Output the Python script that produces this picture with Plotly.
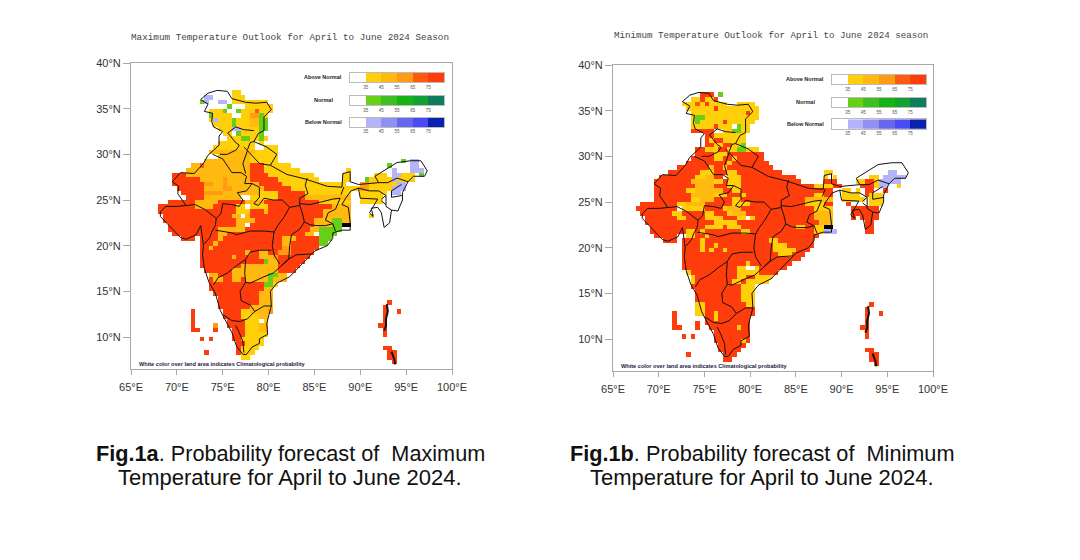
import plotly.graph_objects as go

# probability classes
CODES = ".wabcdegGhijlpqrstk"
COLORS = {".": "#FFFFFF", "w": "#FFFFFF",
          "a": "#FFCF0A", "b": "#FFB90F", "c": "#FF9C14", "d": "#FF5A10", "e": "#FF3C0C",
          "g": "#68CF18", "G": "#3FBE20", "h": "#14B414", "i": "#12A234", "j": "#0F7C60", "l": "#0F7C60",
          "p": "#B4B4FA", "q": "#9090F2", "r": "#6666EE", "s": "#4A4AF6", "t": "#0A22B0", "k": "#000000"}

LON_TICKS = [65, 70, 75, 80, 85, 90, 95, 100]
LAT_TICKS = [10, 15, 20, 25, 30, 35, 40]
LEGEND_X = [30, 40, 50, 60, 70, 80]
LEGEND_TICKS = [35, 45, 55, 65, 75]
ABOVE_BAR = ["w", "a", "b", "c", "d", "e"]
NORMAL_BAR = ["w", "g", "G", "h", "i", "j"]
BELOW_BAR = ["w", "p", "q", "r", "s", "t"]

# rows: lower-edge latitude -> runs "lon0-lon1class"
MAX_ROWS = {
 36.5: "76-77a",
 36.0: "73-74p 76-77.5a",
 35.5: "72.5-73g 73-73.5p 74.5-75.5p 76-78.5a 78.5-80a",
 35.0: "75.5-76g 77.5-80.5a",
 34.5: "73.5-75a 75-75.5g 76.5-77g 77-78.5a 78.5-79d 79-80.5a",
 34.0: "73.5-74g 74-76a 77-78a 78-79c 79-79.5g 79.5-80a",
 33.5: "73.5-74a 74-74.5p 74.5-76a 76-76.5g 76.5-78a 78-79b 79-80g",
 33.0: "74-76a 76-76.5g 76.5-78a 78-79b 79-80g",
 32.5: "74.5-76a 76-77p 77-79a 79-80g",
 32.0: "75-76a 76.5-77g 77-79a 79-79.5g",
 31.5: "75.5-77a 77-78g 78-79a 79-79.5g 79.5-80a",
 31.0: "74.5-78.5a 79-79.5a",
 30.5: "74-78.5a 79.5-81a",
 30.0: "73.5-78.5b 78.5-81a",
 29.5: "74.5-78b 78-81a",
 29.0: "73-78b 78-81a 94.5-95g 95.5-96.5p",
 28.5: "71.5-72.5b 72.5-73d 73-78b 78-79.5e 79.5-82.5a 95.5-96.5p 93-93.5g",
 28.0: "71-78b 78-79.5e 79.5-83.5a 88.5-89a 93.5-94p 94-94.5w 95.5-97p",
 27.5: "69.5-71e 71-78b 78-80e 80-85a 88-89a 91.5-93a 93.5-94.5p 94.5-96a 96.5-97g",
 27.0: "69.5-72.5e 72.5-75b 75-75.5c 75.5-78b 78-81e 81-85.5a 88-89a 90.5-91g 91-93.5a 93.5-94p 94-96a",
 26.5: "69.5-73e 73-74c 74-75b 75-75.5c 75.5-79b 79-81.5e 81.5-88.5a 90-91c 91-94a 94-95p",
 26.0: "70-73e 73-75b 75-76c 76-79.5b 79.5-82.5e 82.5-89a 89-90a 90-91c 91-93.5a 93.5-95p",
 25.5: "70.5-73e 73-75c 75-77b 77-79b 79-81a 81-84e 84-89a 90-93a 93.5-94.5p",
 25.0: "71-73e 73-77b 77-78w 78-81a 81-84e 84-89b 90-92.5a",
 24.5: "69-72e 72-74.5b 74.5-77.5e 77.5-79.5b 79.5-85.5e 85.5-89a 90-92.5a",
 24.0: "68-72e 72-74b 74-76.5e 76.5-77.5a 77.5-78w 78-80a 80-87e 87-89b",
 23.5: "68-76.5e 76.5-77a 77-78a 78-79.5e 79.5-80b 80-86e 86-89b",
 23.0: "68.5-76e 76-77b 77-77.5w 77.5-78b 78-86e 86-89b 91-91.5a",
 22.5: "68.5-76.5e 76.5-78.5b 78.5-85e 85-87b 87-88g 88-89b",
 22.0: "69-76.5e 76.5-77.5b 77.5-78w 78-85e 85-87b 87-88g 88-89k",
 21.5: "69-74.5e 74.5-77.5b 77.5-84.5e 84.5-85.5b 85.5-88g",
 21.0: "69.5-72.5e 72.5-74.5e 74.5-75.5b 75.5-83e 83-84e 84-85b 85.5-87.5g",
 20.5: "70.5-72e 72.5-74.5e 74.5-75b 75-81.5e 81.5-83b 83-85.5e 85.5-87g",
 20.0: "72.5-74e 74-74.5b 74.5-80.5e 80.5-81.5e 81.5-82.5b 82.5-85.5e 85.5-86.5g",
 19.5: "72.5-73.5e 73.5-74b 74-81.5e 81.5-82.5c 82.5-85.5e",
 19.0: "72.5-77.5e 77.5-78b 78-79e 79-80b 80-81e 81-82.5c 82.5-85e",
 18.5: "72.5-76e 76-76.5b 76.5-78e 78-79e 79-80.5b 80.5-81c 81-84.5e",
 18.0: "72.5-77.5e 77.5-79.5e 79.5-80g 80-81b 81-84e",
 17.5: "72.5-77e 77-78b 78-81b 81-83.5e",
 17.0: "73-76e 76-77b 77-81b 81-83e",
 16.5: "73.5-74.5b 74.5-76e 76-77.5b 77.5-80b 80-81g 81-82b",
 16.0: "73.5-74e 74-75b 75-76e 76-77b 77-77.5e 77.5-80b 80-80.5g 80.5-82b",
 15.5: "73.5-77e 77-79.5e 79.5-80.5g 80.5-81a",
 15.0: "73.5-78e 78-79.5e 79.5-80.5b",
 14.5: "74-79e 79-80.5b",
 14.0: "74.5-78e 78-79e 79-80.5b",
 13.5: "74.5-79e 79-80.5b 93-93.5e",
 13.0: "74.5-78e 78-80.5b 92.5-93e",
 12.5: "75-77e 77-78a 78-80b 80-80.5c 71.5-72e 92.5-93e 94-94.5e",
 12.0: "75-77e 77-79a 79-80b 71.5-72e 92.5-93e",
 11.5: "75.5-77.5e 77.5-79a 79-79.5w 79.5-80a 71.5-72e 92.5-93e",
 11.0: "75.5-77.5e 77.5-79a 79-80b 71.5-72e 74-74.5c 92-93e",
 10.5: "71.5-72.5e 74-74.5e 76-77.5e 77.5-79a 79-80b 92.5-93e",
 10.0: "76-77.5e 77.5-80a 92.5-93e",
 9.5: "72.5-73e 73.5-74e 76-77e 77-79.5a",
 9.0: "76.5-77.5e 77.5-79.5a",
 8.5: "76.5-77e 77-79a 92.5-93e 93-93.5e",
 8.0: "76.5-77e 77-78.5a 73-73.5e 93-94e",
 7.5: "77-78a 93-94e",
 7.0: "93.5-94e",
}

MIN_ROWS = {
 36.5: "74.5-76e 76.5-77g",
 36.0: "73.5-74.5a 74.5-75e 75-76a 76-76.5e",
 35.5: "72.5-74a 74-74.5d 74.5-75a 75-75.5e 75.5-77.5a 78.5-80.5a",
 35.0: "73-76a 76-76.5e 76.5-81a",
 34.5: "73.5-79.5a 79.5-80e 80-81a",
 34.0: "73.5-74a 74-75g 75-81a",
 33.5: "73.5-74a 74-74.5g 74.5-77a 77-77.5e 77.5-80.5a",
 33.0: "73.5-76a 76-76.5e 76.5-78a 78.5-79g 79-80a",
 32.5: "73.5-75e 75-76e 76-77w 77-78a 78-79g 79-80a",
 32.0: "75-76e 76-78.5a 78.5-79.5a",
 31.5: "75-75.5e 75.5-76a 76-77e 77-79.5a",
 31.0: "75-76e 76-77a 77-78e 78-79.5a 79-79.5g",
 30.5: "74-75e 75-76.5a 76.5-77.5e 77.5-78.5a 78.5-79.5g 79.5-81a",
 30.0: "74-76e 76-77.5a 77.5-78e 78-81.5e",
 29.5: "73.5-76e 76-77a 77-78e 78-78.5a 78.5-81.5e",
 29.0: "73-76.5e 76.5-77.5e 77.5-78a 78-82e",
 28.5: "72-75.5e 75.5-76b 76-77e 77-77.5a 77.5-78.5e 78.5-82.5e",
 28.0: "71-74.5e 74.5-76a 76-77.5e 77.5-78.5a 78.5-83.5e 88-89a 95-96p",
 27.5: "70-74e 74-75a 75-76b 76-77e 77.5-79a 79-85e 88-88.5a 89-89.5a 93-94a 94.5-97p",
 27.0: "69.5-73.5e 73.5-76b 76-77a 77-77.5e 77.5-79a 79-85.5e 88-89.5e 91.5-92.5a 92.5-93.5e 93.5-94a 94-96.5p",
 26.5: "69.5-73e 73-74e 74-76b 76-77.5e 77.5-79a 79-87e 87-89a 89-90e 91-92w 92-93.5e 93.5-94a 94-95p 96-96.5a",
 26.0: "69.5-73e 73-74a 74-77b 77-78e 78-79a 79-87e 87-89e 90-91a 91-91.5w 91.5-92a 92.5-93.5e 94.5-95e",
 25.5: "69.5-73.5e 73.5-76b 76-77.5a 77.5-79e 79-79.5a 79.5-87e 87-88a 88-89e 90-92a 92.5-93e 93-94.5a",
 25.0: "69.5-73.5e 73.5-74.5a 74.5-76b 76-78e 78-79a 79-86e 86-89b 90-92.5a 93-94.5a",
 24.5: "68-72e 72-73a 73-75b 75-76e 76-78e 78-80a 80-86e 86-88a 88-89e 90.5-91e 93-94.5a",
 24.0: "67.5-72e 72-72.5w 72.5-73a 73-75a 75-77e 77-77.5a 77.5-79b 79-87e 87-89a 91-93.5e 93.5-94e",
 23.5: "68-71.5e 71.5-72.5a 72.5-75e 75-76a 76-77.5e 77.5-78a 78-79.5b 79.5-87e 87-89b 91-93e 93-94e",
 23.0: "68.5-72e 72-73a 73-75e 75-77a 77-78.5e 78.5-79.5a 79.5-80w 80-80.5a 80.5-87e 87-89b 91-91.5e 92-94e",
 22.5: "68.5-72e 72-76e 76-78.5a 78.5-79.5e 79.5-85e 85-87.5e 87.5-89b 92.5-93.5e",
 22.0: "69-72e 72-75e 75-77a 77-77.5e 77.5-79a 79-85e 85-86a 86-87e 87-88a 88-89k 92.5-93.5e",
 21.5: "69-73e 73-74a 74-74.5e 74.5-75a 75-79e 79-80a 80-87e 87-88a 88-89.5p 92.5-93.5e",
 21.0: "69.5-72e 73-74a 74-75e 75-75.5a 75.5-87.5e",
 20.5: "70.5-72e 72.5-74.5e 74.5-75a 75-82e 82-83a 83-87e",
 20.0: "72.5-74.5e 74.5-75a 75-76e 76-76.5a 76.5-82.5e 82.5-84a 84-87e",
 19.5: "72.5-74.5e 74.5-75a 75-75.5e 75.5-76a 76-77e 77-77.5a 77.5-82.5e 82.5-85a 85-86.5e",
 19.0: "72.5-83e 83-84.5a 84.5-86e",
 18.5: "72.5-85.5e",
 18.0: "72.5-79.5e 79.5-80a 80-84.5e",
 17.5: "72.5-78.5e 78.5-79.5a 79.5-80.5w 80.5-81a 81-84e",
 17.0: "73-73.5a 73.5-78.5e 78.5-81a 81-83e",
 16.5: "73.5-74a 74-78.5e 78.5-79.5a 79.5-80.5e 80.5-82.5a",
 16.0: "73.5-74a 74-78e 78-79a 79-79.5e 79.5-82a",
 15.5: "73.5-79e 79-80.5a",
 15.0: "74-79e 79-80.5a",
 14.5: "74-79e 79-80.5a",
 14.0: "74-79e 79-80.5a",
 13.5: "74-75a 75-79.5e 79.5-80.5a 93-93.5e",
 13.0: "74-75a 75-80.5e 92.5-93e",
 12.5: "74-75a 75-76e 76-76.5a 76.5-80.5e 71.5-72e 92.5-93e 94-94.5e",
 12.0: "75-76e 76-76.5a 76.5-80e 71.5-72e 92.5-93e",
 11.5: "75-80e 74-74.5e 71.5-72e 92.5-93e",
 11.0: "75.5-78.5e 78.5-79a 79-80e 71.5-72.5e 74-74.5e 92-93e",
 10.5: "76-80e 92.5-93e",
 10.0: "76-80e 72.5-73e 73.5-74e 92.5-93e",
 9.5: "76-79e 79-79.5a 79.5-80e",
 9.0: "76.5-79.5e",
 8.5: "76.5-79e 92.5-93e 93-93.5e",
 8.0: "77-78.5e 73-73.5e 93-94e",
 7.5: "77-78e 93-94e",
 7.0: "93.5-94e",
}

# India and state boundaries, lon/lat
COUNTRY = [(68.2, 23.7), (68.8, 24.3), (70.0, 24.3), (71.0, 24.4), (70.1, 25.7), (70.2, 26.5), (69.5, 27.0), (70.4, 28.0), (71.9, 27.9), (72.9, 29.0), (73.4, 29.9), (73.9, 30.4), (74.6, 31.0), (74.6, 32.0), (75.0, 32.5), (74.0, 33.0), (73.8, 33.6), (73.9, 34.5), (73.0, 34.7), (73.4, 35.5), (72.6, 36.0), (73.4, 36.7), (74.4, 37.0), (75.5, 36.9), (76.0, 36.1), (77.5, 35.7), (78.6, 35.6), (79.8, 35.7), (80.3, 34.9), (79.5, 34.1), (79.5, 32.6), (78.9, 32.3), (78.4, 31.4), (79.8, 30.8), (80.9, 30.0), (80.2, 28.8), (82.0, 27.8), (84.0, 27.3), (86.4, 26.5), (88.0, 26.4), (88.1, 27.9), (88.9, 28.1), (88.9, 27.0), (89.8, 26.7), (92.0, 26.9), (91.6, 27.6), (93.0, 28.5), (94.0, 29.1), (95.5, 29.3), (96.6, 29.3), (97.3, 28.2), (97.0, 27.6), (95.8, 27.6), (95.2, 27.0), (94.6, 25.8), (94.6, 25.0), (94.1, 23.8), (93.4, 23.9), (93.2, 22.5), (92.6, 22.0), (92.3, 23.6), (91.9, 24.2), (91.2, 24.1), (91.4, 23.2), (91.0, 23.6), (91.9, 25.1), (90.0, 25.2), (89.8, 26.3), (89.0, 26.0), (88.4, 25.2), (88.0, 24.5), (88.7, 24.2), (88.9, 22.5), (88.9, 21.7), (88.0, 21.7), (87.0, 21.4), (87.0, 20.8), (86.4, 20.0), (85.0, 19.4), (83.5, 17.8), (82.3, 16.6), (80.9, 15.9), (80.2, 15.0), (80.3, 13.4), (79.8, 11.5), (79.9, 10.3), (79.0, 9.8), (79.0, 9.3), (78.2, 8.9), (77.6, 8.1), (77.2, 8.1), (76.5, 9.0), (76.0, 10.5), (75.2, 12.0), (74.7, 13.0), (74.2, 14.8), (73.5, 16.0), (73.0, 17.5), (72.8, 19.0), (72.9, 20.0), (72.8, 21.0), (72.6, 22.2), (72.1, 21.2), (71.0, 20.7), (70.4, 20.9), (69.0, 22.3), (68.2, 23.2), (68.2, 23.7)]
STATE_LINES = [
 [(71.0, 24.4), (72.0, 24.5), (73.0, 24.0), (73.8, 23.4), (74.3, 23.0)],
 [(74.3, 23.0), (74.2, 22.2), (73.8, 21.5), (73.6, 20.9), (73.0, 20.2)],
 [(74.3, 23.0), (74.8, 23.5), (75.0, 24.6), (76.0, 24.5), (76.8, 24.3), (77.2, 25.0), (76.6, 25.8), (77.6, 26.0), (78.2, 26.8), (77.4, 26.8), (77.6, 27.6), (77.0, 28.0), (76.0, 28.0), (75.5, 28.8), (75.0, 29.5), (73.9, 30.0)],
 [(74.7, 30.0), (75.5, 30.0), (76.5, 30.5), (76.8, 31.0), (76.4, 31.3), (75.6, 32.3)],
 [(75.5, 32.3), (76.4, 33.0), (77.3, 32.7), (78.4, 32.6)],
 [(77.7, 30.5), (78.0, 31.3), (78.4, 31.4)],
 [(77.7, 30.4), (78.3, 29.7), (79.0, 29.0), (80.2, 28.8)],
 [(77.5, 27.9), (77.2, 29.0), (77.7, 30.4), (77.3, 30.8)],
 [(84.2, 27.4), (84.0, 26.6), (84.3, 25.7), (83.4, 25.2), (83.4, 24.4)],
 [(78.2, 26.8), (79.0, 26.4), (79.0, 25.3), (78.4, 24.6), (78.9, 24.4), (79.5, 25.2), (80.5, 25.0), (81.5, 25.0), (82.3, 24.2), (83.4, 24.4)],
 [(83.4, 24.6), (84.5, 24.5), (85.8, 24.8), (87.0, 25.1), (87.8, 25.2), (87.3, 24.0), (86.5, 23.6), (86.2, 22.8), (87.0, 22.4)],
 [(83.9, 22.6), (84.5, 22.3), (85.2, 22.2), (86.2, 22.2), (87.0, 22.4), (87.3, 21.6)],
 [(83.4, 24.4), (83.7, 23.5), (83.9, 22.6), (83.4, 21.8), (82.5, 21.2), (82.3, 20.0), (82.2, 18.5), (81.4, 17.8)],
 [(82.3, 24.2), (81.6, 23.0), (81.0, 22.2), (80.6, 21.5), (80.4, 20.0), (80.6, 19.0), (81.2, 18.0)],
 [(74.2, 21.7), (76.0, 21.4), (76.5, 21.2), (78.0, 21.6), (79.5, 21.6), (80.6, 21.5)],
 [(80.3, 19.5), (79.0, 19.5), (78.0, 19.3), (77.5, 18.5), (76.5, 17.8), (75.5, 17.0), (74.5, 16.5), (74.0, 15.7)],
 [(81.4, 17.8), (80.5, 17.0), (79.5, 16.6), (78.0, 15.9), (77.5, 16.0), (77.4, 17.0), (77.5, 18.5)],
 [(77.5, 16.0), (76.9, 15.0), (77.0, 14.0), (78.0, 13.5), (78.5, 12.8), (77.7, 12.0), (76.9, 11.7), (76.0, 11.8), (75.1, 12.4)],
 [(78.5, 12.8), (79.5, 13.4), (80.3, 13.4)],
 [(76.4, 11.3), (76.8, 10.5), (77.2, 9.5), (77.3, 8.3)],
 [(81.4, 17.8), (82.0, 18.4), (83.0, 19.0), (84.7, 19.1)],
 [(89.8, 26.3), (91.0, 26.0), (92.0, 26.0), (92.8, 25.5), (92.3, 25.1)],
 [(92.0, 26.9), (93.0, 26.9), (94.0, 27.4), (95.2, 27.0)],
 [(93.4, 26.0), (94.5, 26.7)],
 [(93.4, 26.0), (93.4, 25.3), (94.6, 25.5)],
 [(92.8, 25.5), (92.8, 24.3), (93.4, 23.9)],
 [(92.3, 24.9), (92.8, 24.5)],
 [(88.2, 26.4), (87.9, 25.6)],
]
ANDAMAN = [(92.9, 13.6), (93.0, 12.8), (92.8, 12.0), (92.8, 11.2), (92.6, 10.7)]
NICOBAR = [(93.4, 8.4), (93.7, 7.6), (93.8, 7.0)]


def grid(rows):
    lons = [67 + 0.5 * i + 0.25 for i in range(64)]
    lats = [6.5 + 0.5 * j + 0.25 for j in range(64)]
    z = [[None] * len(lons) for _ in lats]
    for lat, runs in rows.items():
        j = int(round((lat - 6.5) / 0.5))
        for run in runs.split():
            code = run[-1]
            a, b = run[:-1].split("-")
            i0 = int(round((float(a) - 67) / 0.5))
            i1 = int(round((float(b) - 67) / 0.5))
            for i in range(i0, i1):
                z[j][i] = CODES.index(code)
    return lons, lats, z


n = len(CODES)
colorscale = []
for k, c in enumerate(CODES):
    colorscale += [[k / n, COLORS[c]], [(k + 1) / n, COLORS[c]]]


def px_x(x):
    return x / 1080


def px_y(y):
    return 1 - y / 560


TICK_FONT = dict(family="Liberation Sans", size=11, color="#333333")
FRAME = "#A8A8A8"
fig = go.Figure()
layout = dict(width=1080, height=560, autosize=False, margin=dict(l=0, r=0, t=0, b=0, pad=0),
              paper_bgcolor="white", plot_bgcolor="white", showlegend=False)
annotations = []


def add_panel(idx, rows, box, bars, bar_x, label_x, white_x, title, title_size, title_x, title_y, white_y):
    xn, yn = f"x{idx}", f"y{idx}"
    lons, lats, z = grid(rows)
    fig.add_trace(go.Heatmap(x=lons, y=lats, z=z, colorscale=colorscale, zmin=0, zmax=n,
                             showscale=False, xaxis=xn, yaxis=yn, hoverongaps=False))
    xs, ys = [], []
    for seg in [COUNTRY] + STATE_LINES:
        xs += [p[0] for p in seg] + [None]
        ys += [p[1] for p in seg] + [None]
    fig.add_trace(go.Scatter(x=xs, y=ys, mode="lines", line=dict(color="#111111", width=1),
                             xaxis=xn, yaxis=yn, hoverinfo="skip"))
    for isl in (ANDAMAN, NICOBAR):
        fig.add_trace(go.Scatter(x=[p[0] for p in isl], y=[p[1] for p in isl], mode="lines",
                                 line=dict(color="#111111", width=2), xaxis=xn, yaxis=yn, hoverinfo="skip"))
    x0, x1, y0, y1 = box
    layout[f"xaxis{idx}"] = dict(domain=[px_x(x0), px_x(x1)], range=[65, 100], anchor=yn, automargin=False,
                                 tickmode="array", tickvals=LON_TICKS, ticktext=[f"{v}°E" for v in LON_TICKS],
                                 ticks="outside", ticklen=5, tickcolor=FRAME, showgrid=False, zeroline=False,
                                 ticklabelstandoff=3,
                                 showline=True, linecolor=FRAME, mirror=True, tickfont=TICK_FONT)
    layout[f"yaxis{idx}"] = dict(domain=[px_y(y1), px_y(y0)], range=[6.5, 40], anchor=xn, automargin=False,
                                 tickmode="array", tickvals=LAT_TICKS, ticktext=[f"{v}°N" for v in LAT_TICKS],
                                 ticks="outside", ticklen=7, tickcolor=FRAME, showgrid=False, zeroline=False,
                                 showline=True, linecolor=FRAME, mirror=True, tickfont=TICK_FONT)
    for k, (name, codes, top) in enumerate(bars):
        ax = idx * 10 + k
        fig.add_trace(go.Heatmap(x=LEGEND_X, y=[0], z=[[CODES.index(c) for c in codes]], colorscale=colorscale,
                                 zmin=0, zmax=n, showscale=False, xaxis=f"x{ax}", yaxis=f"y{ax}",
                                 hoverinfo="skip", xgap=0))
        layout[f"xaxis{ax}"] = dict(domain=[px_x(bar_x[0]), px_x(bar_x[1])], range=[25, 85], anchor=f"y{ax}",
                                    automargin=False, tickmode="array", tickvals=LEGEND_TICKS, ticks="",
                                    showgrid=False, zeroline=False, showline=True, linecolor="#BBBBBB", mirror=True,
                                    tickfont=dict(family="Liberation Sans", size=4.5, color="#555555"))
        layout[f"yaxis{ax}"] = dict(domain=[px_y(top + 9.5), px_y(top)], range=[-0.5, 0.5], anchor=f"x{ax}",
                                    automargin=False, showticklabels=False, ticks="", showgrid=False,
                                    zeroline=False, showline=True, linecolor="#BBBBBB", mirror=True)
        annotations.append(dict(text=f"<b>{name}</b>", xref="paper", yref="paper", x=px_x(label_x),
                                y=px_y(top + 4.5), showarrow=False, xanchor="center", yanchor="middle",
                                font=dict(family="Liberation Sans", size=5.5, color="#222222")))
    annotations.append(dict(text="<b>White color over land area indicates Climatological probability</b>",
                            xref="paper", yref="paper", x=px_x(white_x), y=px_y(white_y), showarrow=False,
                            xanchor="left", yanchor="middle",
                            font=dict(family="Liberation Sans", size=5.6, color="#222244")))
    annotations.append(dict(text=title, xref="paper", yref="paper", x=px_x(title_x), y=px_y(title_y),
                            showarrow=False, xanchor="center", yanchor="middle",
                            font=dict(family="Liberation Mono", size=title_size, color="#444444")))


add_panel(1, MAX_ROWS, (131, 452, 63, 369),
          [("Above Normal", ABOVE_BAR, 72.7), ("Normal", NORMAL_BAR, 95.7), ("Below Normal", BELOW_BAR, 117.5)],
          (350, 444), 323, 137, "Maximum Temperature Outlook for April to June 2024 Season", 9.3, 290, 38, 364)
add_panel(2, MIN_ROWS, (613, 933, 65, 371),
          [("Above Normal", ABOVE_BAR, 74.7), ("Normal", NORMAL_BAR, 97.7), ("Below Normal", BELOW_BAR, 119.3)],
          (832, 926), 805, 619, "Minimum Temperature Outlook for April to June 2024 season", 9.2, 771, 35, 366)

CAPTIONS = [
    ("<b>Fig.1a</b>. Probability forecast of \u00a0Maximum", 290, 453, 21.7),
    ("Temperature for April to June 2024.", 290, 477, 22),
    ("<b>Fig.1b</b>. Probability forecast of \u00a0Minimum", 761.5, 453, 21.7),
    ("Temperature for April to June 2024.", 761.5, 477, 22),
]
for text, x, y, size in CAPTIONS:
    annotations.append(dict(text=text, xref="paper", yref="paper", x=px_x(x), y=px_y(y), showarrow=False,
                            xanchor="center", yanchor="middle",
                            font=dict(family="Liberation Sans", size=size, color="#111111")))

layout["annotations"] = annotations
fig.update_layout(**layout)
fig.write_html("out.html", config={"displayModeBar": False},
               post_script="document.body.style.margin='0';document.body.style.overflow='hidden';")
